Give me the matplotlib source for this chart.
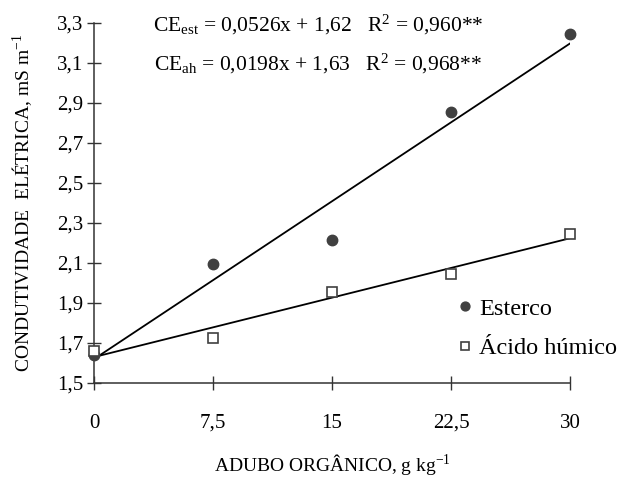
import matplotlib
matplotlib.use('Agg')
import matplotlib.pyplot as plt
import numpy as np

plt.rcParams['font.family'] = ['Liberation Serif', 'DejaVu Serif']
plt.rcParams['mathtext.fontset'] = 'custom'
plt.rcParams['mathtext.rm'] = 'Liberation Serif'
plt.rcParams['mathtext.it'] = 'Liberation Serif:italic'

# data
doses = [0, 7.5, 15, 22.5, 30]
esterco = [1.64, 2.095, 2.215, 2.855, 3.245]
acido = [1.66, 1.725, 1.955, 2.045, 2.245]

# regression coefficients (slope, intercept)
fit_est = (0.0526, 1.62)
fit_ah = (0.0198, 1.63)

x_ticks = [0, 7.5, 15, 22.5, 30]
x_tick_labels = ['0', '7,5', '15', '22,5', '30']
y_ticks = [1.5, 1.7, 1.9, 2.1, 2.3, 2.5, 2.7, 2.9, 3.1, 3.3]
y_tick_labels = ['1,5', '1,7', '1,9', '2,1', '2,3', '2,5', '2,7', '2,9', '3,1', '3,3']

fig = plt.figure(figsize=(6.23, 4.8), dpi=100)
ax = fig.add_axes([0.151, 0.202, 0.764, 0.75])

xs = np.array([doses[0], doses[-1]])
ax.plot(xs, fit_est[1] + fit_est[0] * xs, color='black', lw=1.3, zorder=2)
ax.plot(xs, fit_ah[1] + fit_ah[0] * xs, color='black', lw=1.3, zorder=2)

ax.plot(doses, esterco, 'o', color='#404040', markersize=7.5, zorder=3,
        clip_on=False, label='Esterco')
ax.plot(doses, acido, 's', markerfacecolor='white', markeredgecolor='#404040',
        markeredgewidth=1.2, markersize=7, zorder=4, clip_on=False,
        label='Ácido húmico')

ax.set_xlim(0, 30)
ax.set_ylim(1.5, 3.3)
ax.set_xticks(x_ticks)
ax.set_xticklabels(x_tick_labels)
ax.set_yticks(y_ticks)
ax.set_yticklabels(y_tick_labels)

for s in ['top', 'right']:
    ax.spines[s].set_visible(False)
for s in ['left', 'bottom']:
    ax.spines[s].set_color('#333333')
    ax.spines[s].set_linewidth(1.1)

ax.tick_params(axis='both', direction='inout', length=10, width=1,
               color='#333333', labelsize=15)
ax.tick_params(axis='x', pad=17)
ax.tick_params(axis='y', pad=3)

ax.set_xlabel('ADUBO ORGÂNICO, g kg$^{-1}$', fontsize=14, labelpad=14)
ax.set_ylabel('CONDUTIVIDADE  ELÉTRICA, mS m$^{-1}$', fontsize=14, labelpad=16)

ax.text(0.47, 0.995,
        r'CE$_{\mathrm{est}}$ = 0,0526x + 1,62   R$^{2}$ = 0,960**',
        transform=ax.transAxes, ha='center', va='center', fontsize=15.5)
ax.text(0.47, 0.885,
        r'CE$_{\mathrm{ah}}$ = 0,0198x + 1,63   R$^{2}$ = 0,968**',
        transform=ax.transAxes, ha='center', va='center', fontsize=15.5)

ax.legend(loc='lower right', bbox_to_anchor=(1.145, 0.005), frameon=False,
          fontsize=17.5, handletextpad=0.05, handlelength=1.1,
          labelspacing=0.72, markerscale=0.85)

fig.savefig('out.png', dpi=100)
